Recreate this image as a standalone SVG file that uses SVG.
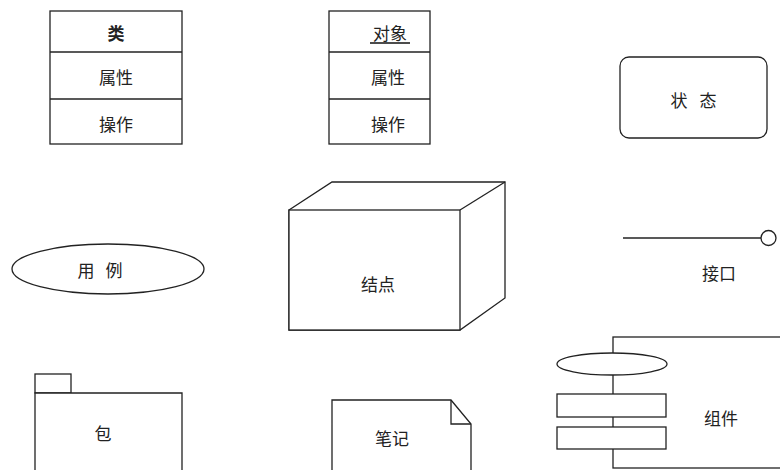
<svg xmlns="http://www.w3.org/2000/svg" width="780" height="470" viewBox="0 0 780 470">
<style>
.s{fill:#fff;stroke:#222;stroke-width:1.3}
.l{fill:none;stroke:#222;stroke-width:1.3}
text{font-family:"Noto Sans CJK SC","Noto Sans",sans-serif;font-size:17px;fill:#222;text-anchor:middle;dominant-baseline:central}
</style>
<rect width="780" height="470" fill="#fff"/>
<g id="class">
<rect class="s" x="50" y="11" width="132" height="133"/>
<line class="l" x1="50" y1="52" x2="182" y2="52"/>
<line class="l" x1="50" y1="99" x2="182" y2="99"/>
<text x="116" y="32" font-weight="bold">类</text>
<text x="116" y="76">属性</text>
<text x="116" y="123">操作</text>
</g>
<g id="object">
<rect class="s" x="329" y="11" width="101" height="133"/>
<line class="l" x1="329" y1="52" x2="430" y2="52"/>
<line class="l" x1="329" y1="99" x2="430" y2="99"/>
<text x="390" y="32">对象</text>
<line x1="370" y1="43" x2="410" y2="43" stroke="#111" stroke-width="1.5"/>
<text x="388" y="76">属性</text>
<text x="388" y="123">操作</text>
</g>
<g id="state">
<rect class="s" x="620" y="57" width="147" height="81" rx="9" ry="9"/>
<text x="679" y="99">状</text>
<text x="708" y="99">态</text>
</g>
<g id="usecase">
<ellipse class="s" cx="108" cy="269" rx="96" ry="25"/>
<text x="86" y="269">用</text>
<text x="114" y="269">例</text>
</g>
<g id="node">
<polygon class="s" points="289,210 332,182 505,182 505,298 460,330 289,330"/>
<line class="l" x1="460" y1="210" x2="505" y2="182"/>
<rect class="s" x="289" y="210" width="171" height="120"/>
<text x="378" y="283">结点</text>
</g>
<g id="interface">
<line class="l" x1="623" y1="238" x2="761" y2="238"/>
<circle class="s" cx="768.5" cy="238" r="7.5"/>
<text x="719" y="272">接口</text>
</g>
<g id="package">
<rect class="s" x="35" y="374" width="36" height="19"/>
<path class="s" d="M35,472 V393 H182 V472"/>
<text x="103" y="432">包</text>
</g>
<g id="note">
<path class="s" d="M332,472 V400 H451 L471,424 V472"/>
<path class="l" d="M451,400 V424 H471"/>
<text x="392" y="437">笔记</text>
</g>
<g id="component">
<rect class="s" x="613" y="337" width="180" height="131"/>
<ellipse class="s" cx="612" cy="364" rx="55" ry="11"/>
<rect class="s" x="557" y="394" width="109" height="23"/>
<rect class="s" x="557" y="427" width="109" height="22"/>
<text x="721" y="417">组件</text>
</g>
</svg>
